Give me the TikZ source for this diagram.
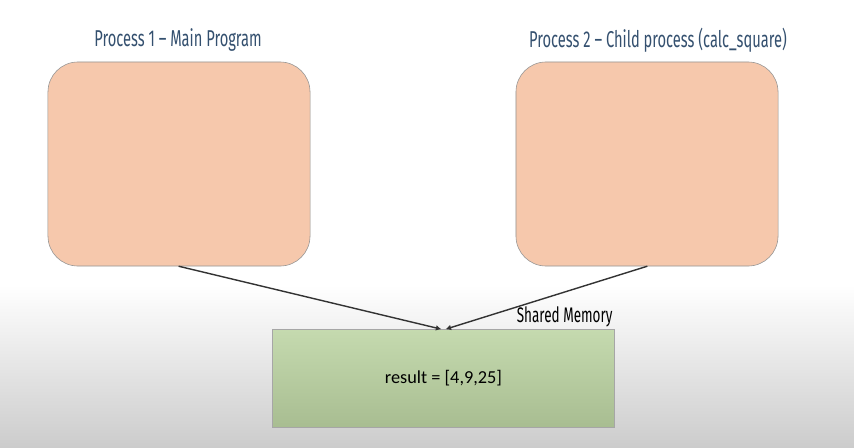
\documentclass[tikz,border=0pt]{standalone}
\usepackage{fontspec}
\setmainfont{Carlito}
\newfontfamily\titlefont[FakeStretch=0.64,Ligatures=TeX]{Fira Sans}
\usetikzlibrary{arrows.meta}

\definecolor{peach}{HTML}{F6C8AC}
\definecolor{memtop}{HTML}{C5DAAF}
\definecolor{membot}{HTML}{A8BD91}
\definecolor{titleblue}{HTML}{34506F}

\begin{document}
\begin{tikzpicture}
		[x=0.025cm,y=-0.025cm,line cap=round,
		%Styles
		process box/.style={draw=gray!85,fill=peach,rounded corners=0.75cm,minimum width=6.55cm,minimum height=5.1cm},
		memory box/.style={draw=gray!70,top color=memtop,bottom color=membot,minimum width=8.55cm,minimum height=2.45cm,font=\fontsize{13}{15}\selectfont},
		title text/.style={text=titleblue,font=\titlefont\fontsize{16.3}{19}\selectfont},
		mem label/.style={inner sep=1.5pt,font=\titlefont\fontsize{15}{17}\selectfont},
		link/.style={line width=1pt,draw=black!80,-{Latex[length=4pt,width=4pt]}}
		]
		
		%Background
		\fill[white] (0,0) rectangle (854,447);
		\shade[top color=white,bottom color=black!20] (0,285) rectangle (854,447);
		\useasboundingbox (0,0) rectangle (854,447);
		
		%The graphic
		\node[title text] (t1) at (178,40) {Process 1 -- Main Program};
		\node[title text] (t2) at (658,40) {Process 2 -- Child process (calc\_square)};
		
		\node[process box] (p1) at (179,164) {};
		\node[process box] (p2) at (647,164) {};
		
		\node[memory box] (mem) at (443.5,378.5) {result = [4,9,25]};
		\node[mem label,anchor=south east] (shm) at (mem.north east) {Shared Memory};
		
		\draw[link] (p1.south) -- ([xshift=-2*0.025cm]mem.north);
		\draw[link] (p2.south) -- ([xshift=2*0.025cm]mem.north);
	\end{tikzpicture}
\end{document}
